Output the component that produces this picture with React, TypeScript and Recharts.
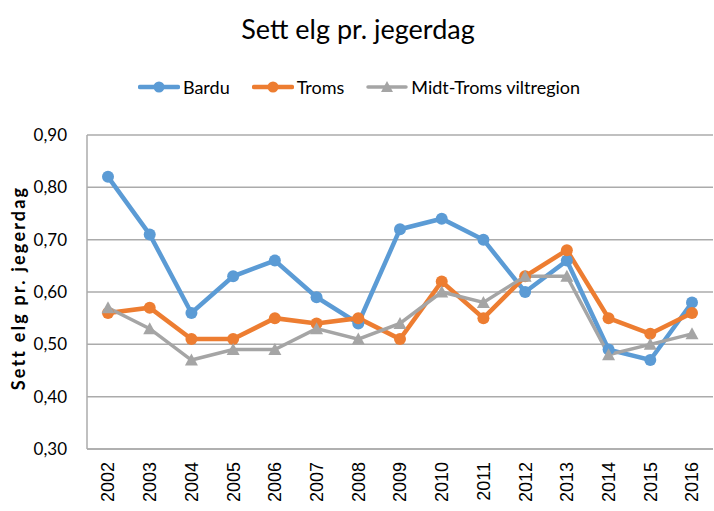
import { LineChart, Line, XAxis, YAxis, CartesianGrid, Label } from 'recharts';

const YEARS = ['2002', '2003', '2004', '2005', '2006', '2007', '2008', '2009', '2010', '2011', '2012', '2013', '2014', '2015', '2016'];
const BARDU = [0.82, 0.71, 0.56, 0.63, 0.66, 0.59, 0.54, 0.72, 0.74, 0.70, 0.60, 0.66, 0.49, 0.47, 0.58];
const TROMS = [0.56, 0.57, 0.51, 0.51, 0.55, 0.54, 0.55, 0.51, 0.62, 0.55, 0.63, 0.68, 0.55, 0.52, 0.56];
const MIDT_TROMS = [0.57, 0.53, 0.47, 0.49, 0.49, 0.53, 0.51, 0.54, 0.60, 0.58, 0.63, 0.63, 0.48, 0.50, 0.52];
const Y_TICKS = [0.3, 0.4, 0.5, 0.6, 0.7, 0.8, 0.9];

const BLUE = '#5B9BD5';
const ORANGE = '#ED7D31';
const GRAY = '#A5A5A5';
const GRID = '#ABABAB';
const CALIBRI = 'Lato, "Open Sans", sans-serif';

const SERIES = [
  { key: 'Bardu', color: BLUE, width: 4.5, triangle: false },
  { key: 'Troms', color: ORANGE, width: 4.5, triangle: false },
  { key: 'Midt-Troms viltregion', color: GRAY, width: 3.5, triangle: true },
];

const data = YEARS.map((year, i) => ({
  year,
  Bardu: BARDU[i],
  Troms: TROMS[i],
  'Midt-Troms viltregion': MIDT_TROMS[i],
}));

function TriangleDot({ cx, cy }: { cx?: number; cy?: number }) {
  if (cx == null || cy == null) return null;
  return <path d={`M${cx},${cy - 6.5} L${cx + 6.5},${cy + 5.5} L${cx - 6.5},${cy + 5.5} Z`} fill={GRAY} />;
}

function YearTick({ x, y, payload }: any) {
  const ty = y + 5;
  return (
    <text
      x={x}
      y={ty}
      transform={`rotate(-90, ${x}, ${ty})`}
      textAnchor="end"
      dy="0.36em"
      fontSize={18}
      fontFamily='"Liberation Sans", Arial, sans-serif'
      fill="#000">
      {payload.value}
    </text>);
}

function LegendRow() {
  return (
    <div
      style={{
        position: 'absolute',
        top: 76,
        left: 0,
        width: 714,
        display: 'flex',
        justifyContent: 'center',
        gap: 22,
        fontFamily: CALIBRI,
        fontSize: 18,
        color: '#000',
        paddingLeft: 4,
        boxSizing: 'border-box',
      }}>
      {SERIES.map((s) =>
      <div key={s.key} style={{ display: 'flex', alignItems: 'center' }}>
          <svg width={42} height={14}>
            <line x1={2} y1={7} x2={40} y2={7} stroke={s.color} strokeWidth={s.width} strokeLinecap="round" />
            {s.triangle ?
          <path d="M21,1 L27,12 L15,12 Z" fill={s.color} /> :
          <circle cx={21} cy={7} r={5.5} fill={s.color} />}
          </svg>
          <span style={{ marginLeft: 3 }}>{s.key}</span>
        </div>
      )}
    </div>);
}

export default function App() {
  return (
    <div style={{ position: 'absolute', left: 0, top: 0, width: 714, height: 511, background: '#fff' }}>
      <div
        style={{
          position: 'absolute',
          top: 12,
          left: 0,
          width: 714,
          textAlign: 'center',
          fontFamily: CALIBRI,
          fontSize: 27,
          color: '#000',
          paddingLeft: 2,
          boxSizing: 'border-box',
        }}>
        Sett elg pr. jegerdag
      </div>
      <LegendRow />
      <LineChart width={714} height={511} data={data} margin={{ top: 135, right: 1, bottom: 0, left: 0 }}>
        <CartesianGrid stroke={GRID} strokeWidth={1.5} vertical={false} />
        <XAxis
          dataKey="year"
          interval={0}
          padding={{ left: 21, right: 21 }}
          height={62}
          tickLine={false}
          axisLine={{ stroke: GRID, strokeWidth: 1.5 }}
          tick={<YearTick />} />

        <YAxis
          domain={[0.3, 0.9]}
          ticks={Y_TICKS}
          width={87}
          tickLine={false}
          axisLine={{ stroke: GRID, strokeWidth: 1.5 }}
          tickMargin={14}
          tickFormatter={(v: number) => v.toFixed(2).replace('.', ',')}
          tick={{ fontSize: 17, fontFamily: CALIBRI, fill: '#000' }}>
          <Label
            content={({ viewBox }: any) => {
              const cy = viewBox.y + viewBox.height / 2 - 4;
              return (
                <text
                  x={19}
                  y={cy}
                  transform={`rotate(-90, 19, ${cy})`}
                  textAnchor="middle"
                  dy="0.35em"
                  fontFamily={CALIBRI}
                  fontWeight="bold"
                  fontSize={18}
                  letterSpacing={2.2}
                  fill="#000">
                  Sett elg pr. jegerdag
                </text>);
            }} />
        </YAxis>
        {SERIES.map((s) =>
        <Line
          key={s.key}
          dataKey={s.key}
          stroke={s.color}
          strokeWidth={s.width}
          type="linear"
          isAnimationActive={false}
          dot={s.triangle ? <TriangleDot /> : { r: 6, fill: s.color, stroke: s.color, strokeWidth: 0 }}
          activeDot={false} />
        )}
      </LineChart>
    </div>);
}
